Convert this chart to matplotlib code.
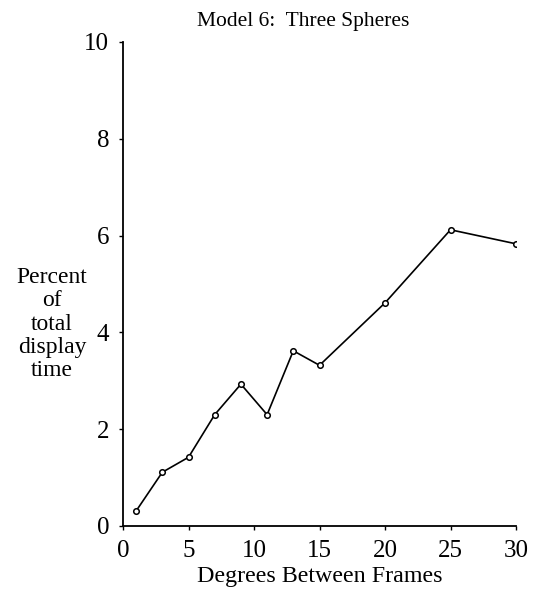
import numpy as np
import matplotlib.pyplot as plt

# Data ----
degrees = [1, 3, 5, 7, 9, 11, 13, 15, 20, 25, 30]
percent = [0.31, 1.11, 1.42, 2.30, 2.93, 2.30, 3.62, 3.32, 4.61, 6.12, 5.83]
x_ticks = [0, 5, 10, 15, 20, 25, 30]
y_ticks = [0, 2, 4, 6, 8, 10]

plt.rcParams['font.family'] = ['Liberation Serif', 'DejaVu Serif']

fig = plt.figure(figsize=(5.36, 5.94), dpi=100)
ax = fig.add_axes([0.2295, 0.1145, 0.7332, 0.8148])

ax.plot(degrees, percent, color='black', linewidth=1.2,
        marker='o', markersize=4, markerfacecolor='white',
        markeredgecolor='black', markeredgewidth=1.1)

ax.set_xlim(0, 30)
ax.set_ylim(0, 10)
ax.set_xticks(x_ticks)
ax.set_yticks(y_ticks)
ax.tick_params(axis='both', labelsize=18, length=3, width=1, direction='out')
ax.tick_params(axis='x', pad=7)
ax.tick_params(axis='y', pad=7)

for side in ['top', 'right']:
    ax.spines[side].set_visible(False)
for side in ['left', 'bottom']:
    ax.spines[side].set_linewidth(1.3)

ax.set_xlabel('Degrees Between Frames', fontsize=17.3, labelpad=3)
fig.text(0.097, 0.4545, 'Percent\nof\ntotal\ndisplay\ntime', fontsize=17,
         ha='center', va='center', linespacing=1.15)
fig.text(0.566, 0.964, 'Model 6:  Three Spheres', fontsize=15.5,
         ha='center', va='center')

fig.savefig('out.png', dpi=100)
